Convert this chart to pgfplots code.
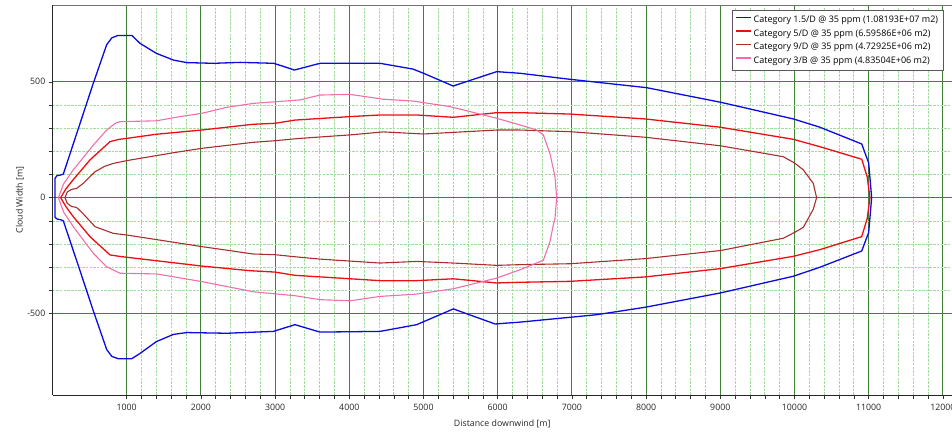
\documentclass[border=0pt]{standalone}
\usepackage{fontspec}
\setmainfont{Open Sans}
\usepackage{pgfplots}
\pgfplotsset{compat=1.18}
\definecolor{cblue}{RGB}{10,10,225}
\definecolor{cred}{RGB}{235,15,20}
\definecolor{cbrown}{RGB}{170,45,45}
\definecolor{cpink}{RGB}{240,110,170}
\definecolor{majgreen}{RGB}{65,130,55}
\definecolor{mingreen}{RGB}{160,220,155}
\begin{document}
\fontsize{9bp}{10bp}\selectfont
\begin{tikzpicture}
\useasboundingbox (-52.5bp,-38bp) rectangle (899.5bp,395bp);
\begin{axis}[
  at={(0,0)}, anchor=south west,
  scale only axis, width=899.5bp, height=390bp,
  xmin=0, xmax=12123, ymin=-851.5, ymax=831.7,
  clip=false,
  axis lines*=left, axis line style={-, black!85, line width=0.9bp},
  xtick={1000,2000,...,12000}, ytick={-500,0,500},
  scaled x ticks=false, scaled y ticks=false,
  minor x tick num=4, minor y tick num=4,
  tick align=outside, major tick length=4bp, minor tick length=4bp,
  tick style={black!80, line width=0.6bp},
  grid=both,
  major grid style={draw=majgreen, line width=1bp},
  minor grid style={draw=mingreen, dash pattern=on 2.5bp off 1.2bp, line width=0.7bp},
  /pgf/number format/assume math mode=true,
  /pgf/number format/1000 sep={},
  ticklabel style={font=\fontsize{8.8bp}{10bp}\selectfont, text=black!85},
  xticklabel style={yshift=-2bp},
  xlabel={Distance downwind [m]},
  ylabel={Cloud Width [m]},
  xlabel style={at={(axis description cs:0.5,-0.0744)}, anchor=center, font=\fontsize{8.8bp}{10bp}\selectfont, text=black!85},
  ylabel style={at={(axis description cs:-0.0361,0.5)}, anchor=center, font=\fontsize{8.8bp}{10bp}\selectfont, text=black!85},
  legend style={at={(0.99,0.987)}, anchor=north east, draw=black!65, fill=white,
    font=\fontsize{9bp}{10bp}\selectfont, row sep=0bp, inner xsep=3bp, inner ysep=3bp,
    nodes={inner sep=1.75bp, text height=7.5bp, text depth=2.5bp}},
  legend cell align=left,
  legend image code/.code={\draw[#1, line width=1.4bp] (0bp,2.5bp) -- (15bp,2.5bp);},
]
\addplot[cblue, line width=1.3bp] coordinates {
(34,0) (34,84) (60,95) (110,98) (146,102) (350,300) (550,494) (730,660) (800,690) (880,700) (1070,700) (1180,666) (1400,623) (1630,594) (1810,583) (2170,580) (2530,584) (2980,580) (3100,568) (3260,551) (3605,580) (4414,580) (4860,555) (5000,537) (5400,482) (5986,544) (6300,537) (6974,511) (8005,475) (9003,412) (9984,340) (10344,304) (10906,232) (11000,150) (11040,0)
(11000,-150) (10906,-230) (10344,-300) (9984,-339) (9003,-411) (7985,-473) (7334,-505) (6300,-537) (5964,-545) (5402,-480) (4908,-548) (4414,-577) (3605,-580) (3268,-548) (2976,-577) (2350,-585) (1810,-582) (1630,-590) (1400,-621) (1180,-672) (1067,-695) (887,-695) (800,-685) (730,-655) (550,-488) (350,-295) (146,-100) (110,-95) (60,-92) (34,-84) (34,0)
};
\addlegendentry{Category 1.5/D @ 35 ppm (1.08193E+07 m2)}
\addplot[cred, line width=1.3bp] coordinates {
(110,0) (180,38) (280,78) (505,163) (775,242) (900,252) (1000,256) (1404,274) (2011,292) (2706,317) (2998,321) (3268,335) (4009,350) (4414,357) (4908,357) (5402,347) (5986,367) (6300,367) (6974,361) (7985,340) (9003,304) (9984,252) (10344,220) (10906,166) (10980,90) (11017,0)
(10980,-90) (10906,-168) (10344,-224) (9984,-253) (9003,-306) (7985,-342) (6974,-361) (6300,-365) (5986,-368) (5402,-350) (4908,-358) (4414,-358) (3268,-335) (2998,-321) (2663,-315) (2011,-295) (1000,-257) (900,-253) (775,-247) (505,-168) (280,-82) (180,-38) (110,0)
};
\addlegendentry{Category 5/D @ 35 ppm (6.59586E+06 m2)}
\addplot[cbrown, line width=1.1bp] coordinates {
(168,0) (200,25) (258,36) (325,40) (415,62) (573,112) (700,135) (820,148) (1000,160) (1628,194) (2011,213) (2706,239) (2998,246) (3336,256) (4009,271) (4458,284) (4997,275) (5986,292) (6300,292) (6974,285) (7985,261) (9003,224) (9849,177) (10000,150) (10119,120) (10253,62) (10298,0)
(10253,-50) (10119,-128) (10000,-150) (9849,-175) (9003,-228) (7985,-263) (6974,-285) (6300,-289) (5986,-292) (5402,-282) (4908,-275) (4414,-282) (3605,-265) (3336,-257) (2998,-246) (2706,-243) (2011,-211) (1000,-161) (820,-154) (700,-140) (573,-125) (415,-70) (325,-42) (258,-38) (200,-25) (168,0)
};
\addlegendentry{Category 9/D @ 35 ppm (4.72925E+06 m2)}
\addplot[cpink, line width=1.1bp] coordinates {
(79,0) (150,60) (280,120) (550,227) (730,292) (850,322) (910,328) (1404,332) (1718,350) (2011,364) (2347,390) (2706,407) (3336,422) (3605,443) (4009,446) (4458,425) (4863,417) (5357,393) (5986,343) (6300,314) (6525,292) (6615,271) (6705,190) (6772,91) (6795,0)
(6772,-90) (6750,-117) (6705,-190) (6615,-270) (6300,-311) (5986,-347) (5402,-393) (4908,-416) (4414,-426) (4009,-445) (3605,-440) (3268,-423) (2706,-406) (2011,-362) (1404,-329) (910,-326) (730,-298) (550,-240) (280,-125) (150,-62) (79,0)
};
\addlegendentry{Category 3/B @ 35 ppm (4.83504E+06 m2)}
\draw[black!55, line width=0.9bp] (rel axis cs:0,1) -- (rel axis cs:1,1);
\end{axis}
\end{tikzpicture}
\end{document}
